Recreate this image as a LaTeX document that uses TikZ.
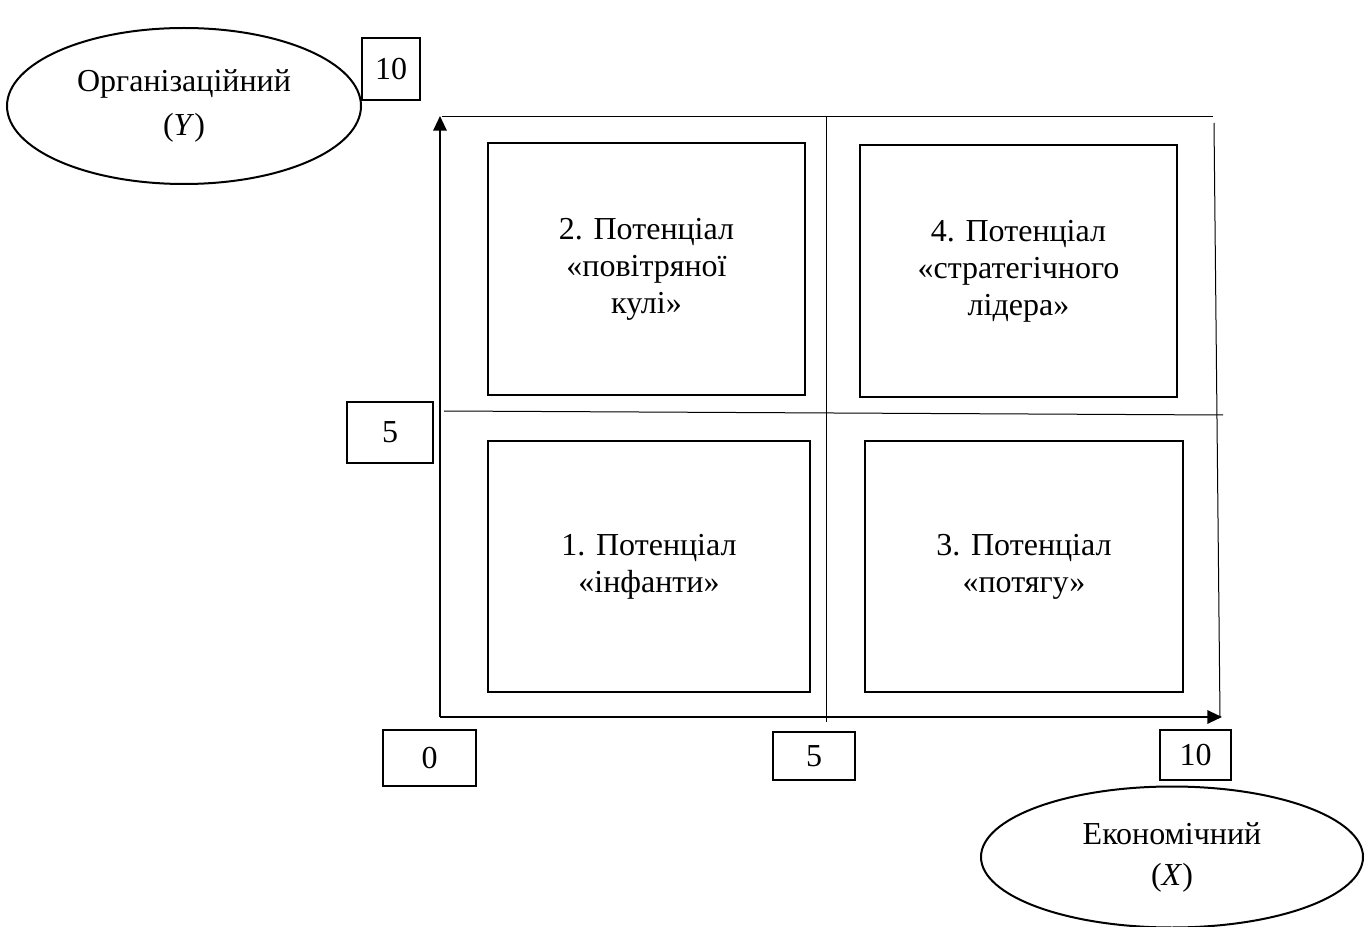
\documentclass[tikz,border=0pt]{standalone}
\usepackage{fontspec}
\setmainfont{Liberation Serif}
\usetikzlibrary{shapes.geometric,arrows.meta}
\tikzset{
  quad/.style={draw, line width=1.7pt, inner sep=0pt, align=center,
    font=\fontsize{24pt}{27.75pt}\selectfont},
  lbl/.style={draw, line width=1.5pt, inner sep=0pt,
    font=\fontsize{24pt}{27.75pt}\selectfont},
  oval/.style={draw, ellipse, line width=1.5pt, inner sep=0pt, align=center,
    font=\fontsize{24pt}{27.75pt}\selectfont},
  axis/.style={line width=1.6pt, -{Triangle[length=11pt,width=10pt]}},
  thin/.style={line width=0.75pt},
}
\begin{document}
\begin{tikzpicture}[x=0.75pt,y=-0.75pt]
\useasboundingbox (0,0) rectangle (1372,927);
% ellipses
\node[oval, minimum width=265.5pt, minimum height=117pt] (ey) at (184,106)
  {Організаційний\\[5pt](\textit{Y})};
\node[oval, minimum width=286.5pt, minimum height=105.75pt] (ex) at (1172,857)
  {Економічний\\[3pt](\textit{X})};
% value boxes
\node[lbl, minimum width=43.5pt, minimum height=46.5pt] (t10) at (391,69) {10};
\node[lbl, minimum width=64.5pt, minimum height=45.75pt] (l5) at (390,432.5) {5};
\node[lbl, minimum width=69.75pt, minimum height=42pt] (b0) at (429.5,758) {0};
\node[lbl, minimum width=61.5pt, minimum height=36pt] (b5) at (814,756) {5};
\node[lbl, minimum width=53.25pt, minimum height=37.5pt] (b10) at (1195.5,755) {10};
% grid thin lines
\coordinate (o) at (440,717);
\coordinate (ytip) at (440,116);
\coordinate (xtip) at (1222,717);
\coordinate (th1) at (442,117);
\coordinate (th2) at (1213,117);
\coordinate (rv1) at (1214,123);
\coordinate (rv2) at (1220,717);
\coordinate (mh1) at (444,411);
\coordinate (mh2) at (1223,415);
\coordinate (mv1) at (826,117);
\coordinate (mv2) at (826,722);
\draw[thin] (th1) -- (th2);
\draw[thin] (rv1) -- (rv2);
\draw[thin] (mh1) -- (mh2);
\draw[thin] (mv1) -- (mv2);
% axes
\draw[axis] (o) -- (ytip);
\draw[axis] (o) -- (xtip);
% quadrants
\node[quad, minimum width=237.75pt, minimum height=189pt] (q2) at (646.5,269)
  {2. Потенціал\\«повітряної\\кулі»};
\node[quad, minimum width=237.75pt, minimum height=189pt] (q4) at (1018.5,271)
  {4. Потенціал\\«стратегічного\\лідера»};
\node[quad, minimum width=241.5pt, minimum height=188.25pt] (q1) at (649,566.5)
  {1. Потенціал\\«інфанти»};
\node[quad, minimum width=238.5pt, minimum height=188.25pt] (q3) at (1024,566.5)
  {3. Потенціал\\«потягу»};
\end{tikzpicture}
\end{document}
